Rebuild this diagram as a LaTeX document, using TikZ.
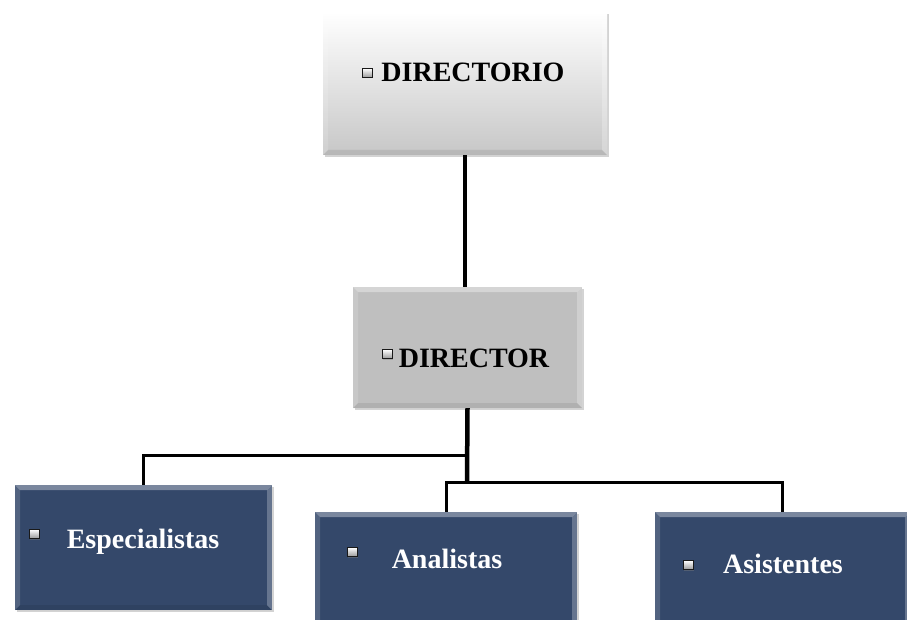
\documentclass[tikz,border=0pt]{standalone}
\usepackage{fontspec}
\setmainfont{Liberation Serif}
\usetikzlibrary{shadows}
\definecolor{navy}{HTML}{34486A}
\tikzset{
  box/.style={rectangle, inner sep=0pt,
    drop shadow={shadow xshift=1.5pt, shadow yshift=-2pt, opacity=0.35}},
  bevel/.style={path picture={
    \fill[white, opacity=0.35] (path picture bounding box.north west) -- (path picture bounding box.north east)
      -- ([xshift=-5pt,yshift=-5pt]path picture bounding box.north east) -- ([xshift=5pt,yshift=-5pt]path picture bounding box.north west) -- cycle;
    \fill[white, opacity=0.15] (path picture bounding box.north west) -- (path picture bounding box.south west)
      -- ([xshift=5pt,yshift=5pt]path picture bounding box.south west) -- ([xshift=5pt,yshift=-5pt]path picture bounding box.north west) -- cycle;
    \fill[black, opacity=0.08] (path picture bounding box.south west) -- (path picture bounding box.south east)
      -- ([xshift=-5pt,yshift=5pt]path picture bounding box.south east) -- ([xshift=5pt,yshift=5pt]path picture bounding box.south west) -- cycle;
    \fill[white, opacity=0.25] (path picture bounding box.north east) -- (path picture bounding box.south east)
      -- ([xshift=-5pt,yshift=5pt]path picture bounding box.south east) -- ([xshift=-5pt,yshift=-5pt]path picture bounding box.north east) -- cycle;
  }},
  top box/.style={box, bevel, top color=white, bottom color=black!22},
  mid box/.style={box, bevel, fill=black!25},
  staff box/.style={box, bevel, fill=navy},
  boxtext/.style={anchor=base, font=\fontsize{28}{32}\selectfont\bfseries},
  bullet/.style={rectangle, minimum width=10pt, minimum height=9pt, inner sep=0pt,
    draw=black!90, line width=1pt, top color=white, bottom color=black!40,
    drop shadow={shadow xshift=1pt, shadow yshift=-1pt, opacity=0.4}},
  link/.style={line width=3pt},
  trunk/.style={line width=4.5pt},
}

\begin{document}
\begin{tikzpicture}[x=1pt, y=-1pt]

  \clip (0,0) rectangle (907,620);

  % Boxes
  \node[top box, minimum width=284pt, minimum height=143pt] (dirio) at (465,83.5) {};
  \node[mid box, minimum width=229pt, minimum height=121pt] (dir) at (467.5,347.5) {};
  \node[staff box, minimum width=257pt, minimum height=125pt] (esp) at (143.5,547.5) {};
  \node[staff box, minimum width=262pt, minimum height=125pt] (ana) at (446,574.5) {};
  \node[staff box, minimum width=255pt, minimum height=125pt] (asi) at (782.5,574.5) {};

  % Texts and bullets
  \node[boxtext] (dirio text) at (473,82) {DIRECTORIO};
  \node[bullet] (dirio mark) at (367,73) {};
  \node[boxtext] (dir text) at (474,367) {DIRECTOR};
  \node[bullet] (dir mark) at (387,354) {};
  \node[boxtext, white] (esp text) at (143,548) {Especialistas};
  \node[bullet] (esp mark) at (34,534) {};
  \node[boxtext, white] (ana text) at (447,568) {Analistas};
  \node[bullet] (ana mark) at (352,552) {};
  \node[boxtext, white] (asi text) at (783,573) {Asistentes};
  \node[bullet] (asi mark) at (688,565) {};

  % Connectors
  \coordinate (hubL) at (467,455);
  \coordinate (hubR) at (467,482);
  \draw[trunk] (dirio.south) -- (dirio.south |- dir.north);
  \draw[trunk] (dir.south) -- (hubR);
  \draw[link] (hubL) -| (esp.north);
  \draw[link] (hubR) -| (ana.north);
  \draw[link] (hubR) -| (asi.north);

\end{tikzpicture}
\end{document}
